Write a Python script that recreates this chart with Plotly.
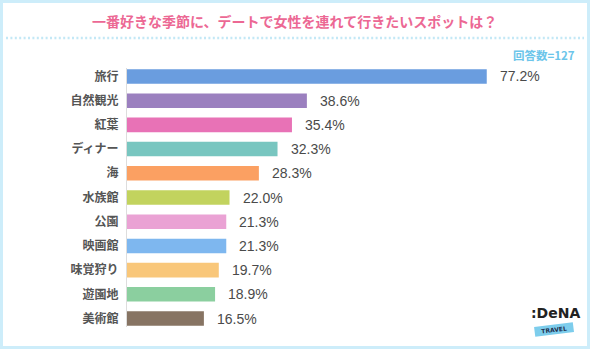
import plotly.graph_objects as go

# Survey data: favourite date spot in the favourite season (n=127)
categories = ["旅行", "自然観光", "紅葉", "ディナー", "海", "水族館",
              "公園", "映画館", "味覚狩り", "遊園地", "美術館"]
percentages = [77.2, 38.6, 35.4, 32.3, 28.3, 22.0, 21.3, 21.3, 19.7, 18.9, 16.5]
bar_colors = ["#6a9ddf", "#9b80bf", "#e872b6", "#78c6c0", "#fba062", "#c2d35e",
              "#eaa2d4", "#7eb7ef", "#f9c77a", "#8bcf9f", "#877463"]

W, H = 590, 349
ML, MR, MT, MB = 127, 30, 68, 22
PW, PH = W - ML - MR, H - MT - MB
X_MAX = PW / 4.66

JP = "Noto Sans CJK JP"
GREY = "#555555"


def px(x):
    return (x - ML) / PW


def py(y):
    return (H - MB - y) / PH


fig = go.Figure(go.Bar(
    x=percentages,
    y=categories,
    orientation="h",
    marker=dict(color=bar_colors, line=dict(width=0)),
    hoverinfo="skip",
))

annotations = []
for cat, val in zip(categories, percentages):
    annotations.append(dict(
        x=val, y=cat, xref="x", yref="y", text=f"{val:.1f}%",
        showarrow=False, xanchor="left", xshift=11,
        font=dict(family="Liberation Sans, Arial", size=14, color="#4a4a4a"),
    ))

# heading and sample size
annotations.append(dict(
    x=px(294), y=py(21), xref="paper", yref="paper",
    text="一番好きな季節に、デートで女性を連れて行きたいスポットは？",
    showarrow=False, xanchor="center", yanchor="middle",
    font=dict(family=JP, size=14, color="#ec6894", weight="bold"),
))
annotations.append(dict(
    x=px(577), y=py(55), xref="paper", yref="paper", text="回答数=127",
    showarrow=False, xanchor="right", yanchor="middle",
    font=dict(family=JP, size=11.5, color="#6cc5ea", weight="bold"),
))

# brand mark
annotations.append(dict(
    x=px(555), y=py(313), xref="paper", yref="paper", text=":DeNA",
    showarrow=False, xanchor="center", yanchor="middle",
    font=dict(family="DejaVu Sans", size=14, color="#222222", weight="bold"),
))
annotations.append(dict(
    x=px(554), y=py(329), xref="paper", yref="paper", text="TRAVEL",
    showarrow=False, xanchor="center", yanchor="middle", textangle=-7,
    bgcolor="#7dcdec", width=38, height=9, borderpad=0,
    font=dict(family="DejaVu Sans", size=6, color="#1d3050", weight="bold"),
))

shapes = [
    # white card inside the light-blue frame
    dict(type="rect", xref="paper", yref="paper", layer="below",
         x0=px(3), x1=px(587), y0=py(3), y1=py(346),
         fillcolor="white", line=dict(width=0)),
    # dotted separator under the heading
    dict(type="line", xref="paper", yref="paper", layer="below",
         x0=px(6), x1=px(584), y0=py(38), y1=py(38),
         line=dict(color="#c3e8f6", width=2.5, dash="2px,2.4px")),
]

fig.update_layout(
    width=W, height=H,
    margin=dict(l=ML, r=MR, t=MT, b=MB, pad=0),
    paper_bgcolor="#cdedfa",
    plot_bgcolor="rgba(0,0,0,0)",
    bargap=0.4,
    showlegend=False,
    annotations=annotations,
    shapes=shapes,
    xaxis=dict(range=[0, X_MAX], visible=False, fixedrange=True),
    yaxis=dict(
        autorange=False, range=[10.35, -0.35],
        categoryorder="array", categoryarray=categories,
        showgrid=False, zeroline=False,
        showline=True, linecolor="#dddddd", linewidth=1,
        ticks="", ticklabelstandoff=5,
        tickfont=dict(family=JP, size=12, color=GREY, weight="bold"),
        fixedrange=True,
    ),
)

fig.write_html("out.html")
